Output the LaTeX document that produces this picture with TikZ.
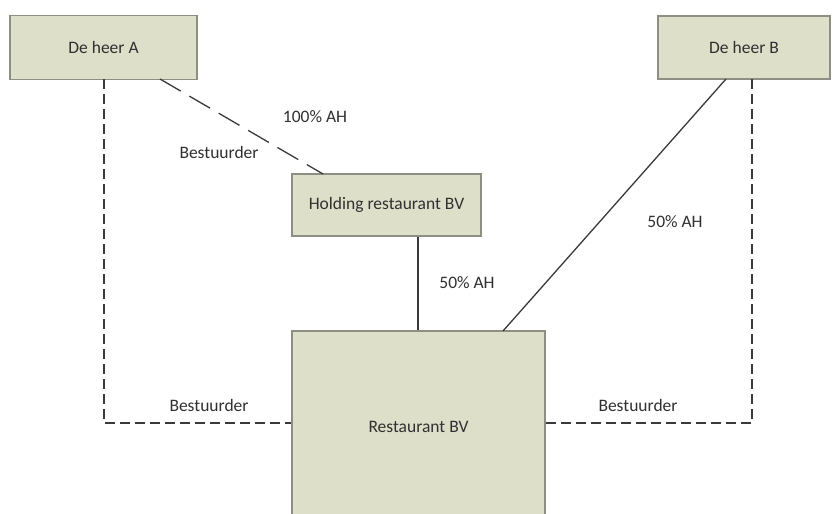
\documentclass[tikz,border=0pt]{standalone}
\usepackage{fontspec}
\setmainfont{Carlito}
\definecolor{boxfill}{HTML}{DDDFC9}
\definecolor{boxline}{HTML}{8E8F84}
\definecolor{linecol}{HTML}{3A3A3A}
\definecolor{txtcol}{HTML}{303030}
\begin{document}
\begin{tikzpicture}[x=1pt,y=-1pt,
  entity/.style={draw=boxline, line width=1.6pt, fill=boxfill, inner sep=0pt,
     font=\fontsize{17.5}{19}\selectfont, text=txtcol},
  lbl/.style={font=\fontsize{17.5}{19}\selectfont, text=txtcol, inner sep=0pt},
  conn/.style={draw=linecol, line width=1.3pt},
  longdash/.style={conn, dash pattern=on 24pt off 10pt},
  shortdash/.style={conn, dash pattern=on 10pt off 5pt}]
\useasboundingbox (0,0) rectangle (838,514);
\clip (0,0) rectangle (838,514);
\fill[white] (0,0) rectangle (838,514);
\node[entity, minimum width=187pt, minimum height=64pt] (A) at (103.5,47.5) {De heer A};
\node[entity, minimum width=172pt, minimum height=63pt] (B) at (744,47.5) {De heer B};
\node[entity, minimum width=189pt, minimum height=62pt] (H) at (386.5,205) {Holding restaurant BV};
\node[entity, minimum width=253pt, minimum height=192pt] (R) at (418.5,427) {Restaurant BV};
\coordinate (A1) at (104,79);
\coordinate (A2) at (160,79);
\coordinate (H1) at (323,174);
\coordinate (B1) at (752,79);
\coordinate (B2) at (726,79);
\coordinate (R1) at (503,331);
\draw[shortdash] (A1) |- (R.west |- 0,423);
\draw[shortdash] (B1) |- (R.east |- 0,423);
\draw[longdash] (A2) -- (H1);
\draw[conn] (B2) -- (R1);
\draw[conn] (H.south -| 418,0) -- (R.north -| 418,0);
\node[lbl] (l1) at (315,117) {100\% AH};
\node[lbl] (l2) at (219,152) {Bestuurder};
\node[lbl] (l3) at (675,222) {50\% AH};
\node[lbl] (l4) at (467,283) {50\% AH};
\node[lbl] (l5) at (209,405) {Bestuurder};
\node[lbl] (l6) at (638,405) {Bestuurder};
\end{tikzpicture}
\end{document}
